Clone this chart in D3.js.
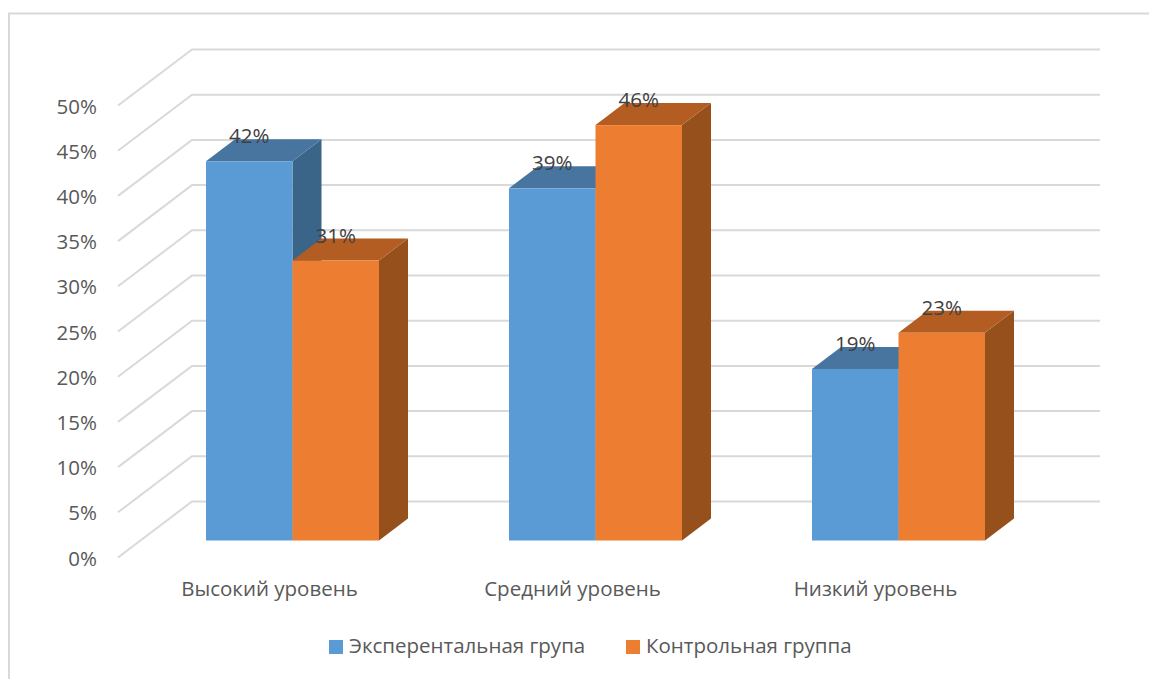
<!DOCTYPE html>
<html lang="ru">
<head>
<meta charset="utf-8">
<script src="https://cdn.jsdelivr.net/npm/d3@7"></script>
<style>
    html, body { margin: 0; padding: 0; background: #fff; }
    svg { display: block; }
    text { font-family: "Open Sans", "Noto Sans", sans-serif; }
</style>
</head>
<body>
<svg id="chart"></svg>
<script>
const categories = ["Высокий уровень", "Средний уровень", "Низкий уровень"];
const seriesNames = ["Эксперентальная група", "Контрольная группа"];
const experimental = [42, 39, 19];
const control = [31, 46, 23];
const yTicks = [0, 5, 10, 15, 20, 25, 30, 35, 40, 45, 50];

const width = 1149, height = 679;
const textColor = "#595959", gridColor = "#d9d9d9";
// front, top, side
const colors = [
    ["#5b9bd5", "#47759f", "#3a6588"],
    ["#ed7d31", "#b35d22", "#95501c"]
];
const depthX = 29, depthY = 22;
const fontSize = 20.5;

const svg = d3.select("#chart").attr("width", width).attr("height", height);

// chart frame (only top and left are visible)
svg.append("path")
    .attr("d", d3.line()([[9, height], [9, 13.5], [width, 13.5]]))
    .attr("fill", "none")
    .attr("stroke", gridColor)
    .attr("stroke-width", 2);

// three scales for the same value: back wall, left edge of floor, front of bars
const yBack = d3.scaleLinear().domain([0, 50]).range([501.5, 49.5]);
const yLeft = d3.scaleLinear().domain([0, 50]).range([557.5, 105.5]);
const yFront = d3.scaleLinear().domain([0, 50]).range([540.5, 89]);

const x0 = d3.scaleBand().domain(categories).range([141, 1050]);
const x1 = d3.scaleBand().domain(seriesNames)
    .range([65, x0.bandwidth() - 65]);

// gridlines
svg.append("g").selectAll("path")
    .data(yTicks)
    .join("path")
    .attr("d", d => d3.line()([[118, yLeft(d)], [192, yBack(d)], [1100, yBack(d)]]))
    .attr("fill", "none")
    .attr("stroke", gridColor)
    .attr("stroke-width", 2);

// y axis
const axisY = svg.append("g")
    .attr("transform", "translate(118,1)")
    .call(d3.axisLeft(yLeft).tickValues(yTicks).tickSize(0).tickPadding(21).tickFormat(d => d + "%"));
axisY.select(".domain").remove();
axisY.selectAll("text").attr("font-size", fontSize).attr("fill", textColor).style("font-family", null);

// x axis
const axisX = svg.append("g")
    .attr("transform", "translate(-23,540)")
    .call(d3.axisBottom(x0).tickSize(0).tickPadding(41));
axisX.select(".domain").remove();
axisX.selectAll("text").attr("font-size", fontSize).attr("fill", textColor).style("font-family", null);

// bars
const rows = [];
categories.forEach((c, i) => {
    rows.push({ cat: c, s: 0, value: experimental[i] });
    rows.push({ cat: c, s: 1, value: control[i] });
});

const bars = svg.append("g").selectAll("g")
    .data(rows)
    .join("g")
    .each(function (d) {
        const g = d3.select(this);
        const left = x0(d.cat) + x1(seriesNames[d.s]);
        const right = left + x1.bandwidth();
        const top = yFront(d.value);
        const bottom = yFront(0);
        const poly = d3.line();
        g.append("path")
            .attr("fill", colors[d.s][2])
            .attr("d", poly([[right, top], [right + depthX, top - depthY], [right + depthX, bottom - depthY], [right, bottom]]) + "Z");
        g.append("path")
            .attr("fill", colors[d.s][1])
            .attr("d", poly([[left, top], [left + depthX, top - depthY], [right + depthX, top - depthY], [right, top]]) + "Z");
        g.append("rect")
            .attr("x", left)
            .attr("y", top)
            .attr("width", x1.bandwidth())
            .attr("height", bottom - top)
            .attr("fill", colors[d.s][0]);
    });

// value labels, on top of all bars
svg.append("g").selectAll("text")
    .data(rows)
    .join("text")
    .attr("x", d => x0(d.cat) + x1(seriesNames[d.s]) + x1.bandwidth() / 2)
    .attr("y", d => yFront(d.value) - 18)
    .attr("text-anchor", "middle")
    .attr("font-size", fontSize)
    .attr("fill", "#404040")
    .text(d => d.value + "%");

// legend
const legendX = d3.scaleOrdinal().domain(seriesNames).range([329, 626]);
const legend = svg.append("g").selectAll("g")
    .data(seriesNames)
    .join("g")
    .attr("transform", d => `translate(${legendX(d)},640)`);
legend.append("rect")
    .attr("width", 14)
    .attr("height", 14)
    .attr("fill", (d, i) => colors[i][0]);
legend.append("text")
    .attr("x", 20)
    .attr("y", 13)
    .attr("font-size", fontSize)
    .attr("fill", textColor)
    .text(d => d);
</script>
</body>
</html>
